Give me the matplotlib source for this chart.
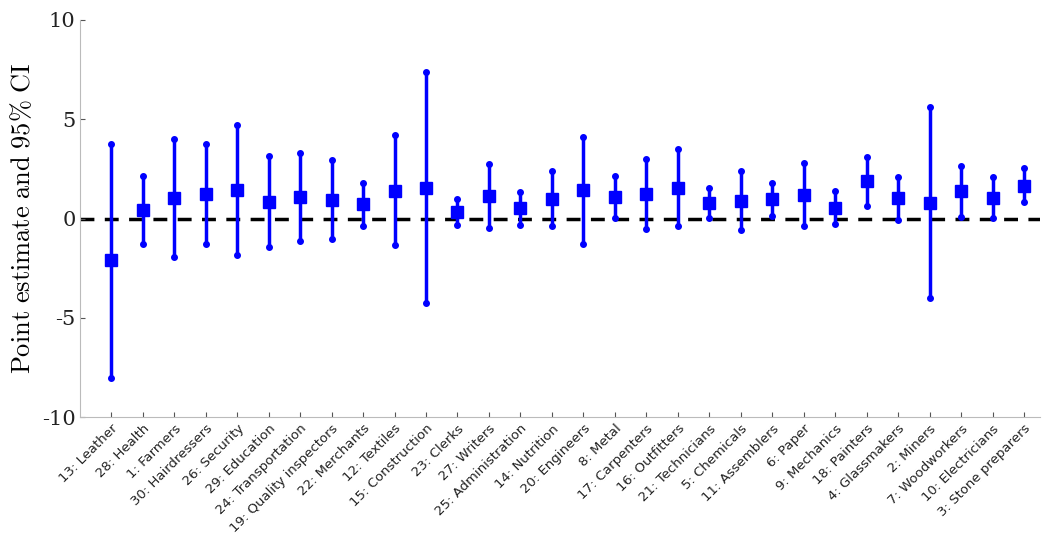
import matplotlib
matplotlib.use("Agg")
import matplotlib.pyplot as plt
import numpy as np

labels = ["13: Leather", "28: Health", "1: Farmers", "30: Hairdressers", "26: Security",
          "29: Education", "24: Transportation", "19: Quality inspectors", "22: Merchants",
          "12: Textiles", "15: Construction", "23: Clerks", "27: Writers", "25: Administration",
          "14: Nutrition", "20: Engineers", "8: Metal", "17: Carpenters", "16: Outfitters",
          "21: Technicians", "5: Chemicals", "11: Assemblers", "6: Paper", "9: Mechanics",
          "18: Painters", "4: Glassmakers", "2: Miners", "7: Woodworkers", "10: Electricians",
          "3: Stone preparers"]
point = [-2.1, 0.45, 1.05, 1.25, 1.45, 0.85, 1.1, 0.95, 0.75, 1.4, 1.55, 0.35, 1.15, 0.55,
         1.0, 1.45, 1.1, 1.25, 1.55, 0.8, 0.9, 1.0, 1.2, 0.55, 1.9, 1.05, 0.8, 1.4, 1.05, 1.65]
upper = [3.75, 2.15, 4.0, 3.75, 4.7, 3.15, 3.3, 2.95, 1.8, 4.2, 7.35, 1.0, 2.75, 1.35,
         2.4, 4.1, 2.15, 3.0, 3.5, 1.55, 2.4, 1.8, 2.8, 1.4, 3.1, 2.1, 5.6, 2.65, 2.1, 2.55]
lower = [-8.0, -1.3, -1.95, -1.3, -1.85, -1.45, -1.15, -1.05, -0.35, -1.35, -4.25, -0.3, -0.5,
         -0.3, -0.4, -1.3, 0.05, -0.55, -0.4, 0.05, -0.6, 0.15, -0.4, -0.25, 0.65, -0.05,
         -4.0, 0.1, 0.05, 0.85]

plt.rcParams["mathtext.fontset"] = "cm"
fig = plt.figure(figsize=(10.44, 5.35), dpi=100)
ax = fig.add_axes([0.077, 0.22, 0.919, 0.743])

x = np.arange(1, len(labels) + 1)
blue = "#0000ff"
ax.axhline(0, color="black", linestyle="--", linewidth=2.5, dashes=(4, 3), zorder=1)
for xi, lo, hi in zip(x, lower, upper):
    ax.plot([xi, xi], [lo, hi], color=blue, linewidth=2.5, zorder=2)
    ax.plot([xi, xi], [lo, hi], "o", color=blue, markersize=4, zorder=3)
ax.plot(x, point, "s", color=blue, markersize=8, zorder=4)

ax.set_xlim(0.02, 30.5)
ax.set_ylim(-10, 10)
ax.set_yticks([-10, -5, 0, 5, 10])
ax.set_yticklabels(["-10", "-5", "0", "5", "10"], fontfamily="DejaVu Serif", fontsize=15)
ax.set_xticks(x)
ax.set_xticklabels(labels, rotation=45, ha="right", rotation_mode="anchor", fontsize=9.5)
ax.set_ylabel(r"$\mathrm{Point\ estimate\ and\ 95\%\ CI}$", fontsize=19)
for s in ["top", "right"]:
    ax.spines[s].set_visible(False)
for s in ["left", "bottom"]:
    ax.spines[s].set_color("#bbbbbb")
ax.tick_params(colors="#555555", labelcolor="#222222", direction="in")

fig.savefig("out.png", dpi=100)
